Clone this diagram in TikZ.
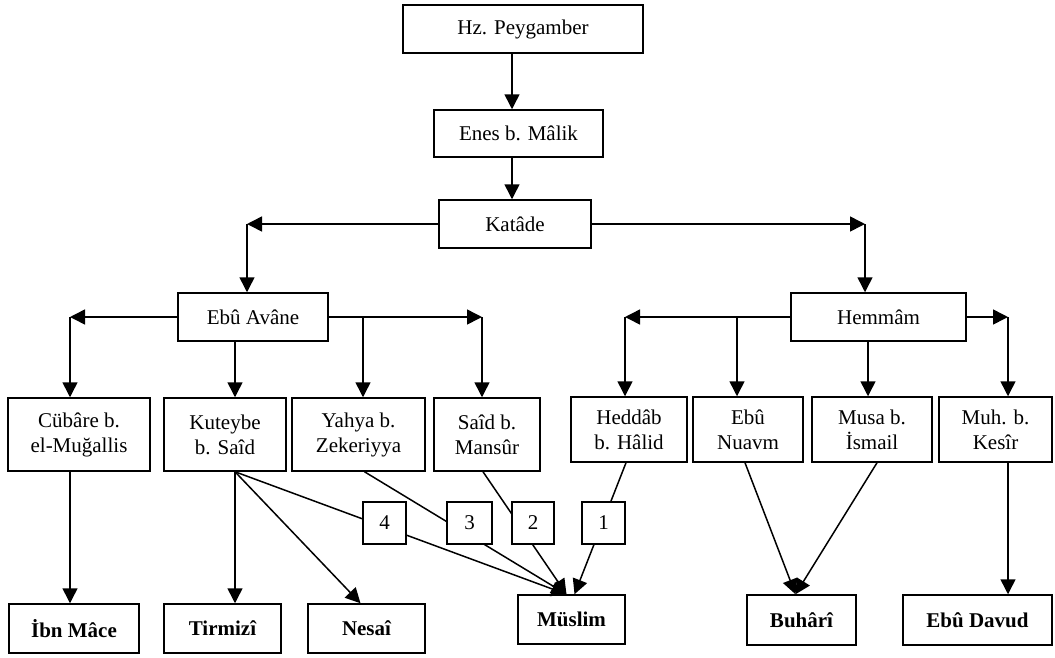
\documentclass[tikz,border=0pt]{standalone}
\usepackage{fontspec}
\setmainfont{Liberation Serif}
\usetikzlibrary{arrows.meta}
\tikzset{
  box/.style={draw, line width=1.5pt, inner sep=0pt, align=center, fill=white,
    font=\fontsize{21}{25}\selectfont},
  bbox/.style={box, font=\fontsize{21}{25}\selectfont\bfseries},
  numbox/.style={box, minimum width=43pt, minimum height=42pt},
  arr/.style={line width=1.5pt, -{Triangle[length=15pt,width=15pt]}},
  ln/.style={line width=1.5pt},
}
\begin{document}
\begin{tikzpicture}[x=1pt,y=-1pt]
\useasboundingbox (0,0) rectangle (1055,657);
% top chain
\node[box, minimum width=240pt, minimum height=48pt] (hz) at (523,29) {Hz. Peygamber};
\node[box, minimum width=169pt, minimum height=47pt] (enes) at (518.5,133.5) {Enes b. Mâlik};
\node[box, minimum width=152pt, minimum height=48pt] (kat) at (515,224) {Katâde};
\node[box, minimum width=150pt, minimum height=48pt] (ava) at (253,317) {Ebû Avâne};
\node[box, minimum width=175pt, minimum height=48pt] (hem) at (878.5,317) {Hemmâm};
% third row
\node[box, minimum width=142pt, minimum height=73pt] (cub) at (79,434.5) {Cübâre b.\\el-Muğallis};
\node[box, minimum width=122pt, minimum height=73pt] (kut) at (225,434.5) {Kuteybe\\b. Saîd};
\node[box, minimum width=133pt, minimum height=73pt] (yah) at (358.5,434.5) {Yahya b.\\Zekeriyya};
\node[box, minimum width=106pt, minimum height=73pt] (said) at (487,434.5) {Saîd b.\\Mansûr};
\node[box, minimum width=116pt, minimum height=65pt] (hed) at (629,429.5) {Heddâb\\b. Hâlid};
\node[box, minimum width=110pt, minimum height=65pt] (nua) at (748,429.5) {Ebû\\Nuavm};
\node[box, minimum width=120pt, minimum height=65pt] (musa) at (872,429.5) {Musa b.\\İsmail};
\node[box, minimum width=113pt, minimum height=65pt] (muh) at (995.5,429.5) {Muh. b.\\Kesîr};
% bottom row
\node[bbox, minimum width=130pt, minimum height=49pt] (ibn) at (74,628.5) {İbn Mâce};
\node[bbox, minimum width=117pt, minimum height=49pt] (tir) at (222.5,628.5) {Tirmizî};
\node[bbox, minimum width=117pt, minimum height=49pt] (nes) at (366.5,628.5) {Nesaî};
\node[bbox, minimum width=107pt, minimum height=49pt] (mus) at (571.5,619.5) {Müslim};
\node[bbox, minimum width=109pt, minimum height=50pt] (buh) at (801.5,620) {Buhârî};
\node[bbox, minimum width=149pt, minimum height=50pt] (dav) at (977.5,620) {Ebû Davud};
% coordinates
\coordinate (t) at (512,0);
\coordinate (cL) at (247,224);
\coordinate (cR) at (865,224);
\coordinate (aL) at (70,317);
\coordinate (aJ) at (363,317);
\coordinate (aR) at (482,317);
\coordinate (kx) at (235,317);
\coordinate (hL) at (625,317);
\coordinate (hJ) at (737,317);
\coordinate (hM) at (868,317);
\coordinate (hR) at (1008,317);
% top connectors
\draw[arr] (hz.south -| t) -- (enes.north -| t);
\draw[arr] (enes.south -| t) -- (kat.north -| t);
\draw[arr] (kat.west) -- (cL);
\draw[arr] (cL) -- (cL |- ava.north);
\draw[arr] (kat.east) -- (cR);
\draw[arr] (cR) -- (cR |- hem.north);
% Ebu Avane
\draw[arr] (ava.west) -- (aL);
\draw[arr] (aL) -- (aL |- cub.north);
\draw[arr] (ava.south -| kx) -- (kx |- kut.north);
\draw[arr] (ava.east) -- (aR);
\draw[arr] (aJ) -- (aJ |- yah.north);
\draw[arr] (aR) -- (aR |- said.north);
% Hemmam
\draw[arr] (hem.west) -- (hL);
\draw[arr] (hL) -- (hL |- hed.north);
\draw[arr] (hJ) -- (hJ |- nua.north);
\draw[arr] (hem.south -| hM) -- (hM |- musa.north);
\draw[arr] (hem.east) -- (hR);
\draw[arr] (hR) -- (hR |- muh.north);
% bottom connectors
\draw[arr] (aL |- cub.south) -- (aL |- ibn.north);
\draw[arr] (kx |- kut.south) -- (kx |- tir.north);
\draw[arr] (kx |- kut.south) -- ([xshift=-6pt]nes.north);
\draw[arr] (kx |- kut.south) -- ([xshift=-5pt]mus.north);
\draw[arr] ([xshift=6pt]yah.south) -- ([xshift=-5pt]mus.north);
\draw[arr] ([xshift=-4pt]said.south) -- ([xshift=-5pt]mus.north);
\draw[arr] ([xshift=-3pt]hed.south) -- ([xshift=3pt]mus.north);
\draw[arr] ([xshift=-3pt]nua.south) -- ([xshift=-6pt]buh.north);
\draw[arr] ([xshift=5pt]musa.south) -- ([xshift=-6pt]buh.north);
\draw[arr] (hR |- muh.south) -- (hR |- dav.north);
% number labels
\node[numbox] (n4) at (384.5,523) {4};
\node[numbox, minimum width=45pt] (n3) at (469.5,523) {3};
\node[numbox, minimum width=42pt] (n2) at (533,523) {2};
\node[numbox] (n1) at (603.5,523) {1};
\end{tikzpicture}
\end{document}
